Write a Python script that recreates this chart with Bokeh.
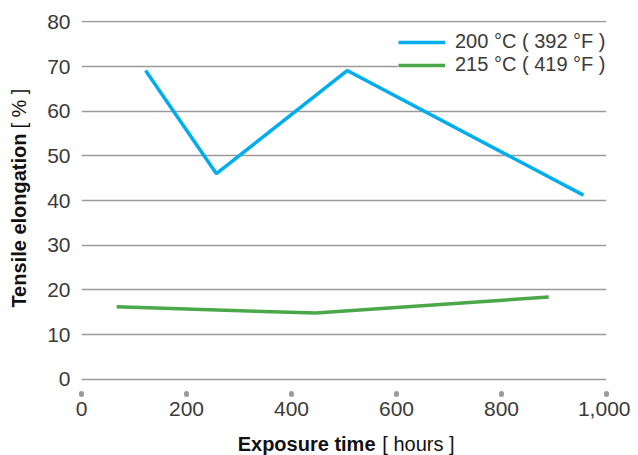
import math
from bokeh.plotting import figure
from bokeh.models import Range1d, NumeralTickFormatter, FixedTicker, Label, Legend, LegendItem
from bokeh.embed import file_html
from bokeh.resources import INLINE

# Data
hours_200 = [122, 257, 506, 956]
elong_200 = [69.1, 46.0, 69.1, 41.2]
hours_215 = [67, 446, 890]
elong_215 = [16.2, 14.8, 18.4]
series_names = ["200 °C ( 392 °F )", "215 °C ( 419 °F )"]
x_ticks = [0, 200, 400, 600, 800, 1000]
y_ticks = [0, 10, 20, 30, 40, 50, 60, 70, 80]

FONT = "Liberation Sans"
TXT = "#3a3a3a"
GRID = "#9a9a9a"
BLUE = "#00aeef"
GREEN = "#4aa84a"

p = figure(width=630, height=447, output_backend="svg", toolbar_location=None,
           x_range=Range1d(0, 1000), y_range=Range1d(-3.2, 80.3),
           min_border_left=81, min_border_right=24, min_border_top=20, min_border_bottom=54,
           frame_width=525, frame_height=373)
p.outline_line_color = None
p.background_fill_color = "white"
p.border_fill_color = "white"

# grids
p.xgrid.grid_line_color = None
p.ygrid.ticker = FixedTicker(ticks=y_ticks)
p.ygrid.grid_line_color = GRID
p.ygrid.grid_line_width = 1.6

# y axis
p.yaxis.ticker = FixedTicker(ticks=y_ticks)
p.yaxis.axis_line_color = None
p.yaxis.major_tick_line_color = None
p.yaxis.minor_tick_line_color = None
p.yaxis.major_tick_out = 0
p.yaxis.major_tick_in = 0
p.yaxis.major_label_standoff = 11
p.yaxis.major_label_text_font = FONT
p.yaxis.major_label_text_font_size = "21px"
p.yaxis.major_label_text_color = TXT

# x axis
p.xaxis.ticker = FixedTicker(ticks=x_ticks)
p.xaxis.formatter = NumeralTickFormatter(format="0,0")
p.xaxis.axis_line_color = None
p.xaxis.minor_tick_line_color = None
p.xaxis.major_tick_line_color = GRID
p.xaxis.major_tick_line_width = 5
p.xaxis.major_tick_line_cap = "round"
p.xaxis.major_tick_out = 1
p.xaxis.major_tick_in = 0
p.xaxis.major_label_standoff = 7
p.xaxis.major_label_text_font = FONT
p.xaxis.major_label_text_font_size = "21px"
p.xaxis.major_label_text_color = TXT

# lines
r1 = p.line(hours_200, elong_200, line_color=BLUE, line_width=3.5)
r2 = p.line(hours_215, elong_215, line_color=GREEN, line_width=3.5)

legend = Legend(items=[LegendItem(label=series_names[0], renderers=[r1]),
                       LegendItem(label=series_names[1], renderers=[r2])],
                location=(317, 317), orientation="vertical")
legend.border_line_color = None
legend.background_fill_color = "white"
legend.background_fill_alpha = 1.0
legend.label_text_font = FONT
legend.label_text_font_size = "20px"
legend.label_text_color = TXT
legend.glyph_width = 47
legend.glyph_height = 20
legend.label_height = 20
legend.label_standoff = 10
legend.spacing = 0
legend.padding = 6
legend.margin = 0
p.add_layout(legend, "center")

# axis titles (bold + regular parts), placed in side panels so they are not clipped
p.add_layout(Label(x=560, y=-14.4, text="Exposure time",
                   text_font=FONT, text_font_style="bold", text_font_size="20px",
                   text_color="#111111", text_align="right", text_baseline="middle"), "below")
p.add_layout(Label(x=573, y=-14.4, text="[ hours ]",
                   text_font=FONT, text_font_size="20px",
                   text_color="#111111", text_align="left", text_baseline="middle"), "below")
p.add_layout(Label(x=-120, y=55.0, text="Tensile elongation",
                   text_font=FONT, text_font_style="bold", text_font_size="20px", angle=math.pi / 2,
                   text_color="#111111", text_align="right", text_baseline="middle"), "left")
p.add_layout(Label(x=-120, y=56.1, text="[ % ]",
                   text_font=FONT, text_font_size="20px", angle=math.pi / 2,
                   text_color="#111111", text_align="left", text_baseline="middle"), "left")

open("out.html", "w").write(file_html(p, INLINE))
